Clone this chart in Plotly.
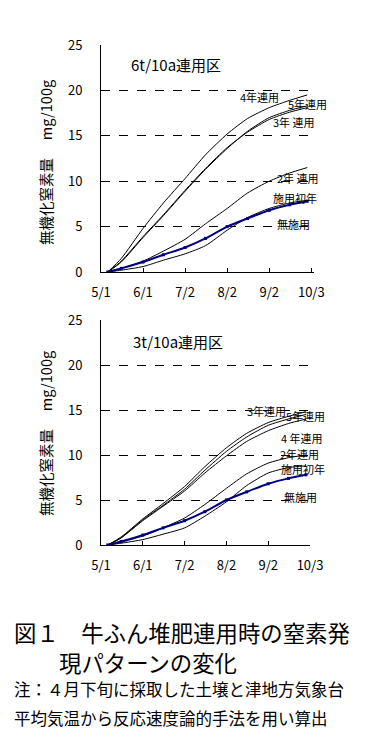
import plotly.graph_objects as go

# ---- data ----
dates = ["2001-05-06", "2001-05-16", "2001-06-01", "2001-06-16", "2001-07-02", "2001-07-17",
         "2001-08-02", "2001-08-17", "2001-09-02", "2001-09-17", "2001-09-30"]

tick_vals = ["2001-05-01", "2001-06-01", "2001-07-02", "2001-08-02", "2001-09-02", "2001-10-03"]
tick_text = ["5/1", "6/1", "7/2", "8/2", "9/2", "10/3"]

# 6t/10a
t6_4y = [0, 1.5, 4.8, 7.6, 10.3, 12.9, 15.2, 16.9, 18.1, 18.9, 19.5]
t6_5y = [0, 1.1, 3.8, 6.2, 8.9, 11.3, 13.6, 15.5, 17.0, 17.8, 18.3]
t6_3y = [0, 1.2, 3.9, 6.3, 9.0, 11.4, 13.7, 15.4, 16.8, 17.6, 18.1]
t6_2y = [0, 0.4, 1.2, 2.3, 3.6, 5.3, 7.0, 8.7, 10.0, 10.9, 11.5]
t6_1y = [0, 0.2, 0.6, 1.3, 2.0, 2.9, 4.6, 6.0, 7.0, 7.6, 7.9]
none_ = [0, 0.4, 1.1, 1.9, 2.7, 3.7, 5.0, 5.9, 6.8, 7.4, 7.8]

# 3t/10a
t3_3y = [0, 0.9, 2.9, 4.6, 6.5, 8.7, 10.8, 12.4, 13.6, 14.3, 14.8]
t3_5y = [0, 0.8, 2.8, 4.4, 6.2, 8.3, 10.4, 12.0, 13.3, 14.0, 14.5]
t3_4y = [0, 0.8, 2.7, 4.3, 6.0, 8.0, 9.9, 11.5, 12.7, 13.5, 14.0]
t3_2y = [0, 0.3, 1.0, 1.9, 3.0, 4.5, 6.3, 7.9, 9.1, 9.7, 10.0]
t3_1y = [0, 0.2, 0.6, 1.2, 1.9, 3.2, 4.8, 6.6, 8.0, 8.6, 8.8]

FONT = "Noto Sans CJK JP"
W, H = 365, 746

def px(x):
    return x / W

def py(y):
    return 1 - y / H

fig = go.Figure()

def add_black(x, y, xa, ya, name):
    fig.add_trace(go.Scatter(x=x, y=y, mode="lines", name=name, xaxis=xa, yaxis=ya,
                             line=dict(color="black", width=1, shape="spline", smoothing=0.6),
                             showlegend=False))

def add_blue(x, y, xa, ya, name):
    fig.add_trace(go.Scatter(x=x, y=y, mode="lines+markers", name=name, xaxis=xa, yaxis=ya,
                             line=dict(color="#000080", width=2, shape="spline", smoothing=0.6),
                             marker=dict(symbol="square", size=3, color="#000080"),
                             showlegend=False))

for s, n in [(t6_4y, "4年連用"), (t6_5y, "5年連用"), (t6_3y, "3年連用"), (t6_2y, "2年連用"), (t6_1y, "施用初年")]:
    add_black(dates, s, "x", "y", n)
add_blue(dates, none_, "x", "y", "無施用")

for s, n in [(t3_3y, "3年連用"), (t3_5y, "5年連用"), (t3_4y, "4年連用"), (t3_2y, "2年連用"), (t3_1y, "施用初年")]:
    add_black(dates, s, "x2", "y2", n)
add_blue(dates, none_, "x2", "y2", "無施用")

common_x = dict(type="date", tickvals=tick_vals, ticktext=tick_text, showgrid=False,
                showline=True, linecolor="black", linewidth=1, ticks="inside", ticklen=4,
                tickcolor="black", tickfont=dict(family=FONT, size=13, color="black"),
                ticklabelstandoff=8, zeroline=False, fixedrange=True, automargin=False)
common_y = dict(range=[0, 25], tickvals=[0, 5, 10, 15, 20, 25], showgrid=True, gridcolor="black",
                griddash="dash", gridwidth=1, showline=True, linecolor="black", linewidth=1,
                ticks="outside", ticklen=15, tickcolor="white",
                tickfont=dict(family=FONT, size=13, color="black"),
                zeroline=False, fixedrange=True, automargin=False)

fig.update_layout(
    width=W, height=H, margin=dict(l=0, r=0, t=0, b=0, pad=0, autoexpand=False),
    paper_bgcolor="white", plot_bgcolor="white",
    xaxis=dict(common_x, domain=[px(101), px(314)], range=["2001-05-01", "2001-10-05"], anchor="y"),
    yaxis=dict(common_y, domain=[py(272), py(45)], anchor="x"),
    xaxis2=dict(common_x, domain=[px(101), px(310)], range=["2001-05-01", "2001-10-03"], anchor="y2"),
    yaxis2=dict(common_y, domain=[py(545), py(320)], anchor="x2"),
)

def lab(text, x, y, xa, ya, size=11):
    fig.add_annotation(text=text, x=x, y=y, xref=xa, yref=ya, showarrow=False,
                       font=dict(family=FONT, size=size, color="black"))

# top labels
lab("6t/10a連用区", "2001-06-25", 22.9, "x", "y", 15)
lab("4年連用", "2001-08-26", 19.3, "x", "y")
lab("5年連用", "2001-09-30", 18.5, "x", "y")
lab("3年 連用", "2001-09-20", 16.5, "x", "y")
lab("2年 連用", "2001-09-23", 10.35, "x", "y")
lab("施用初年", "2001-09-21", 8.15, "x", "y")
lab("無施用", "2001-09-20", 5.3, "x", "y")

# bottom labels
lab("3t/10a連用区", "2001-06-27", 22.6, "x2", "y2", 15)
lab("3年連用", "2001-09-01", 14.9, "x2", "y2")
lab("5年連用", "2001-09-30", 14.3, "x2", "y2")
lab("4 年連用", "2001-09-27", 11.9, "x2", "y2")
lab("2年連用", "2001-09-25", 10.1, "x2", "y2")
lab("施用初年", "2001-09-28", 8.5, "x2", "y2")
lab("無施用", "2001-09-26", 5.3, "x2", "y2")

# y titles
for yc in (163, 434):
    fig.add_annotation(text="無機化窒素量\u3000\u00a0mg/100g", x=px(45), y=py(yc), xref="paper", yref="paper",
                       xanchor="center", yanchor="middle", textangle=-90, showarrow=False,
                       font=dict(family=FONT, size=14.5, color="black"))

# caption
def cap(text, x, y, size):
    fig.add_annotation(text=text, x=px(x), y=py(y), xref="paper", yref="paper", xanchor="left",
                       yanchor="middle", showarrow=False,
                       font=dict(family=FONT, size=size, color="black"))

cap("図１　牛ふん堆肥連用時の窒素発", 12, 632, 22.4)
cap("現パターンの変化", 57, 662, 22.4)
cap("注：４月下旬に採取した土壌と津地方気象台", 12, 689, 16.5)
cap("平均気温から反応速度論的手法を用い算出", 12, 718, 16.5)

fig.write_html("out.html", config={"displayModeBar": False},
               post_script="document.body.style.margin='0';")
